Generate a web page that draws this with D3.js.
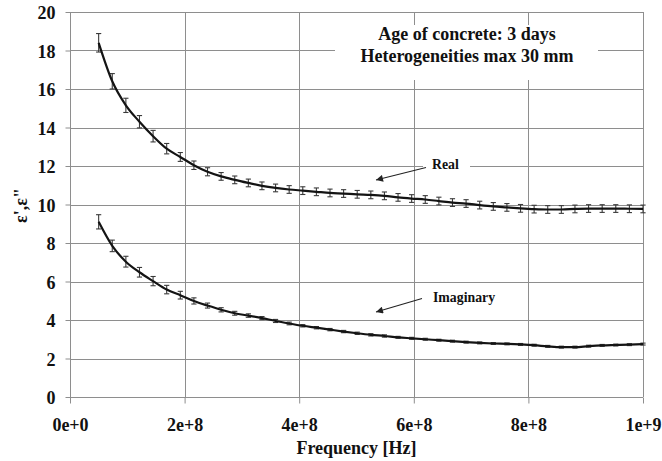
<!DOCTYPE html>
<html>
<head>
<meta charset="utf-8">
<script src="https://cdn.jsdelivr.net/npm/d3@7"></script>
<style>
  html, body { margin: 0; padding: 0; background: #fff; }
  svg { display: block; }
</style>
</head>
<body>
<svg id="chart" width="662" height="461"></svg>
<script>
// Measurement frequencies in MHz
const freqMHz = [50, 73.75, 97.5, 121.25, 145, 168.75, 192.5, 216.25, 240, 263.75,
  287.5, 311.25, 335, 358.75, 382.5, 406.25, 430, 453.75, 477.5, 501.25,
  525, 548.75, 572.5, 596.25, 620, 643.75, 667.5, 691.25, 715, 738.75,
  762.5, 786.25, 810, 833.75, 857.5, 881.25, 905, 928.75, 952.5, 976.25, 1000];

// Real part of permittivity (ε') and its spread
const realPart = [18.4, 16.4, 15.15, 14.3, 13.55, 12.9, 12.47, 12.04, 11.7, 11.46,
  11.28, 11.12, 10.97, 10.86, 10.78, 10.72, 10.66, 10.6, 10.57, 10.53,
  10.5, 10.45, 10.37, 10.31, 10.26, 10.18, 10.1, 10.05, 9.97, 9.9,
  9.85, 9.8, 9.76, 9.74, 9.74, 9.77, 9.79, 9.79, 9.79, 9.78, 9.77];
const realErr = [0.48, 0.4, 0.37, 0.32, 0.3, 0.27, 0.23, 0.22, 0.21, 0.2,
  0.2, 0.2, 0.2, 0.2, 0.2, 0.2, 0.2, 0.2, 0.2, 0.2,
  0.2, 0.2, 0.2, 0.2, 0.2, 0.2, 0.2, 0.2, 0.2, 0.2,
  0.2, 0.2, 0.2, 0.2, 0.2, 0.2, 0.2, 0.2, 0.2, 0.2, 0.2];

// Imaginary part of permittivity (ε") and its spread
const imagPart = [9.1, 7.85, 7.03, 6.48, 6.02, 5.58, 5.29, 4.99, 4.75, 4.53,
  4.35, 4.23, 4.1, 3.95, 3.82, 3.7, 3.6, 3.5, 3.4, 3.31,
  3.23, 3.17, 3.1, 3.05, 3.0, 2.95, 2.9, 2.85, 2.81, 2.78,
  2.76, 2.73, 2.69, 2.63, 2.59, 2.59, 2.64, 2.68, 2.7, 2.72, 2.75];
const imagErr = [0.37, 0.3, 0.28, 0.25, 0.24, 0.22, 0.2, 0.16, 0.13, 0.11,
  0.1, 0.09, 0.08, 0.08, 0.07, 0.06, 0.06, 0.06, 0.06, 0.06,
  0.06, 0.06, 0.05, 0.05, 0.05, 0.05, 0.05, 0.05, 0.05, 0.05,
  0.05, 0.05, 0.05, 0.05, 0.05, 0.05, 0.05, 0.05, 0.05, 0.05, 0.05];

// Axis ticks
const xTickValues = [0, 2e8, 4e8, 6e8, 8e8, 1e9];
const xTickLabels = ["0e+0", "2e+8", "4e+8", "6e+8", "8e+8", "1e+9"];
const yTickValues = [0, 2, 4, 6, 8, 10, 12, 14, 16, 18, 20];

const titleLines = ["Age of concrete: 3 days", "Heterogeneities max 30 mm"];

const svg = d3.select("#chart");
const plotLeft = 70, plotRight = 643, plotTop = 12, plotBottom = 397;
const gridColor = "#8e8e8e";
const serifFont = '"Liberation Serif", "Tinos", "Times New Roman", serif';

// Bold serif text style used by every label
function serif(sel, size) {
  return sel.style("font-family", serifFont).style("font-weight", "bold")
    .style("font-size", size + "px").style("fill", "#111");
}

const x = d3.scaleLinear().domain([0, 1e9]).range([plotLeft, plotRight]);
const y = d3.scaleLinear().domain([0, 20]).range([plotBottom, plotTop]);

// Grid
const grid = svg.append("g").attr("shape-rendering", "crispEdges");
grid.selectAll("line.h").data(yTickValues).join("line")
  .attr("x1", plotLeft).attr("x2", plotRight)
  .attr("y1", d => Math.round(y(d)) + 0.5).attr("y2", d => Math.round(y(d)) + 0.5)
  .attr("stroke", gridColor).attr("stroke-width", 1);
grid.selectAll("line.v").data(xTickValues).join("line")
  .attr("y1", plotTop).attr("y2", plotBottom)
  .attr("x1", d => Math.round(x(d)) + 0.5).attr("x2", d => Math.round(x(d)) + 0.5)
  .attr("stroke", gridColor).attr("stroke-width", 1);

// Axes
const yAxis = d3.axisLeft(y).tickValues(yTickValues).tickSize(5).tickPadding(10);
const gy = svg.append("g").attr("transform", `translate(${plotLeft + 0.5},0)`).call(yAxis);
gy.select(".domain").remove();
gy.selectAll(".tick line").attr("stroke", gridColor);
serif(gy.selectAll(".tick text"), 18).attr("dy", "0.38em");

const xAxis = d3.axisBottom(x).tickValues(xTickValues).tickSize(6)
  .tickFormat((d, i) => xTickLabels[i]);
const gx = svg.append("g").attr("transform", `translate(0,${plotBottom + 0.5})`).call(xAxis);
gx.select(".domain").remove();
gx.selectAll(".tick line").attr("stroke", gridColor);
serif(gx.selectAll(".tick text"), 18).attr("y", 33).attr("dy", 0);

// Title box
svg.append("rect").attr("x", 335).attr("y", 25).attr("width", 263).attr("height", 55).attr("fill", "#fff");
serif(svg.append("text").attr("text-anchor", "middle"), 18)
  .selectAll("tspan").data(titleLines).join("tspan")
  .attr("x", 467).attr("y", (d, i) => 40 + i * 21.7).text(d => d);

// Series
const seriesList = [
  { values: realPart, err: realErr },
  { values: imagPart, err: imagErr }
];
const line = d3.line()
  .x((d, i) => x(freqMHz[i] * 1e6))
  .y(d => y(d))
  .curve(d3.curveMonotoneX);

seriesList.forEach(s => {
  const g = svg.append("g");
  const bars = g.selectAll("g.bar").data(s.values).join("g");
  bars.append("line")
    .attr("x1", (d, i) => x(freqMHz[i] * 1e6)).attr("x2", (d, i) => x(freqMHz[i] * 1e6))
    .attr("y1", (d, i) => y(d + s.err[i])).attr("y2", (d, i) => y(d - s.err[i]))
    .attr("stroke", "#3a3a3a").attr("stroke-width", 1.1);
  [1, -1].forEach(sign => {
    bars.append("line")
      .attr("x1", (d, i) => x(freqMHz[i] * 1e6) - 2.6).attr("x2", (d, i) => x(freqMHz[i] * 1e6) + 2.6)
      .attr("y1", (d, i) => y(d + sign * s.err[i])).attr("y2", (d, i) => y(d + sign * s.err[i]))
      .attr("stroke", "#3a3a3a").attr("stroke-width", 1.1);
  });
  g.append("path").datum(s.values)
    .attr("d", line).attr("fill", "none")
    .attr("stroke", "#141414").attr("stroke-width", 2.2)
    .attr("stroke-linejoin", "round");
});

// Annotations with arrows
svg.append("defs").append("marker")
  .attr("id", "arrowHead").attr("viewBox", "0 0 10 10")
  .attr("refX", 10).attr("refY", 5)
  .attr("markerWidth", 9).attr("markerHeight", 7)
  .attr("markerUnits", "userSpaceOnUse")
  .attr("orient", "auto")
  .append("path").attr("d", "M0,0 L10,5 L0,10 Z").attr("fill", "#222");

const notes = [
  { label: "Real", tx: 432, ty: 168.5, box: [423, 156, 47, 17], from: [426, 167.5], to: [376, 180] },
  { label: "Imaginary", tx: 433, ty: 301.5, box: [428, 289, 73, 17], from: [422, 298.5], to: [376, 312] }
];
notes.forEach(n => {
  svg.append("rect").attr("x", n.box[0]).attr("y", n.box[1])
    .attr("width", n.box[2]).attr("height", n.box[3]).attr("fill", "#fff");
  serif(svg.append("text").attr("x", n.tx).attr("y", n.ty), 13.8).text(n.label);
  svg.append("line")
    .attr("x1", n.from[0]).attr("y1", n.from[1]).attr("x2", n.to[0]).attr("y2", n.to[1])
    .attr("stroke", "#222").attr("stroke-width", 1.1)
    .attr("marker-end", "url(#arrowHead)");
});

// Axis titles
serif(svg.append("text").attr("text-anchor", "middle")
  .attr("x", (plotLeft + plotRight) / 2).attr("y", 453.5), 18).text("Frequency [Hz]");
serif(svg.append("text").attr("text-anchor", "middle")
  .attr("transform", `translate(27,205.5) rotate(-90)`), 18).text("ε',ε\"");
</script>
</body>
</html>
